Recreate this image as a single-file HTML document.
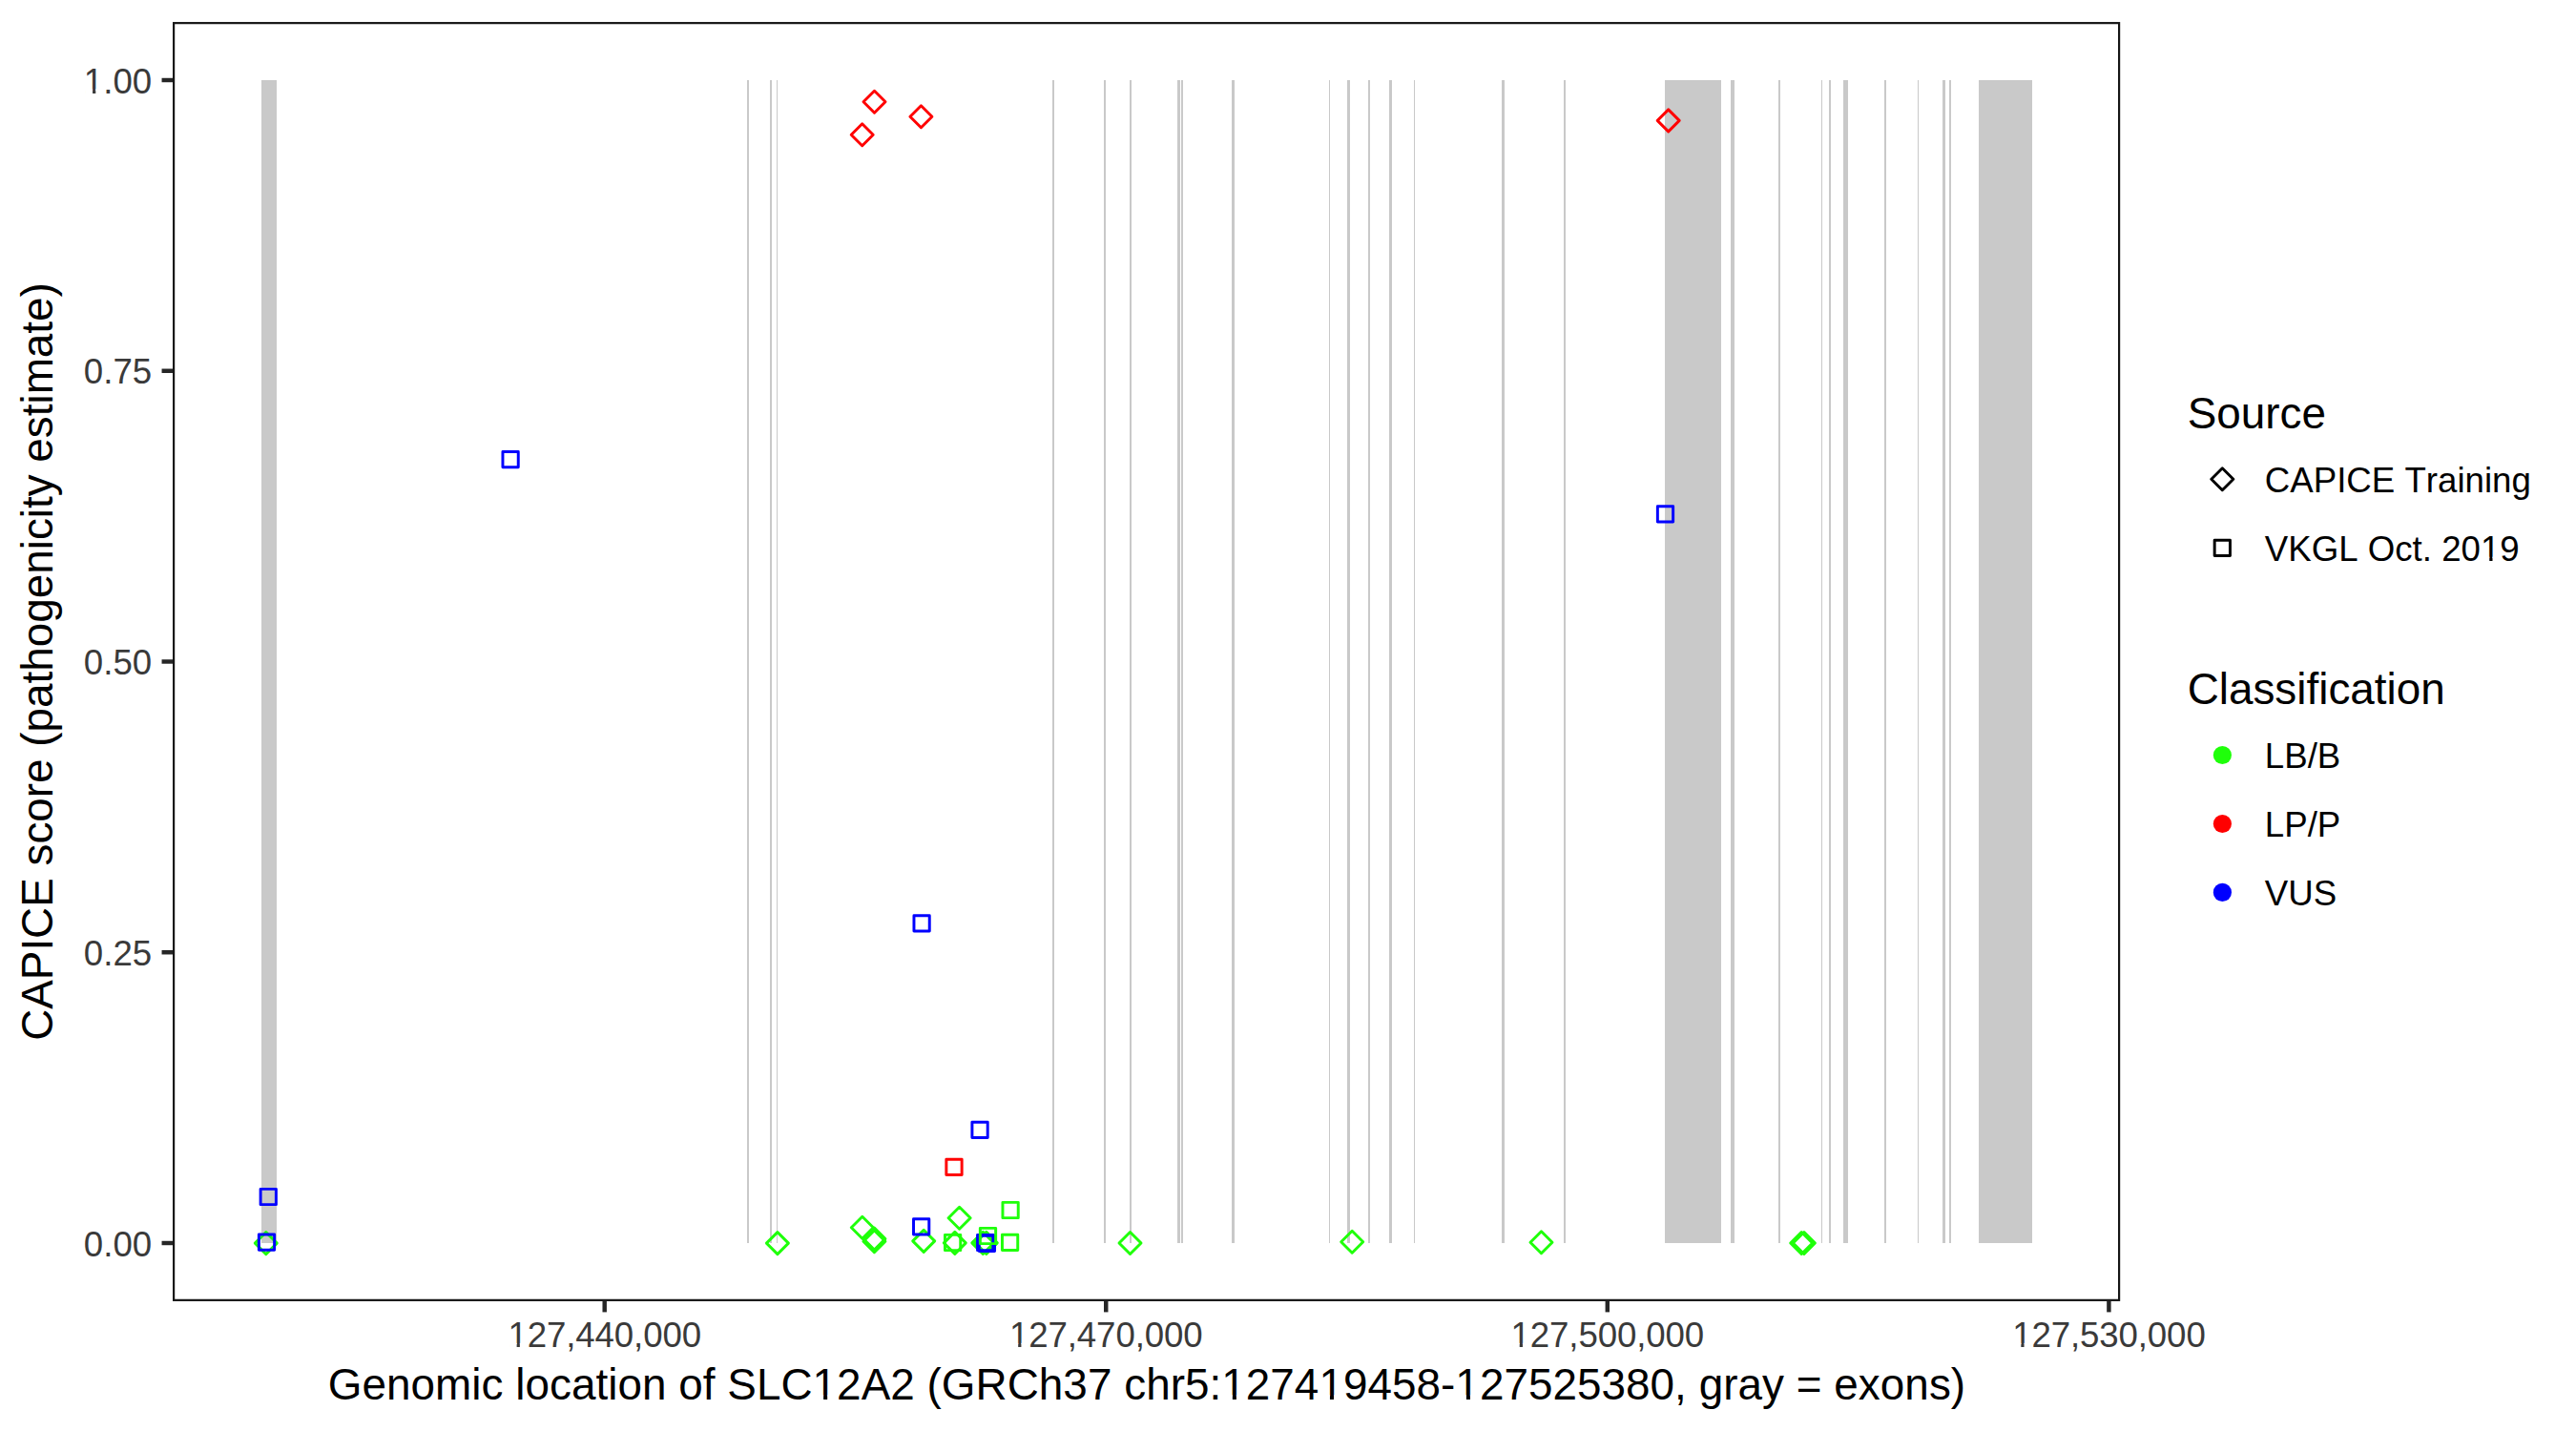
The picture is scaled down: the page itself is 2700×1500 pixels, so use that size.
<!DOCTYPE html>
<html lang="en">
<head>
<meta charset="utf-8">
<title>CAPICE score - SLC12A2</title>
<style>
html,body{margin:0;padding:0;background:#fff;}
body{width:2700px;height:1500px;overflow:hidden;}
svg{display:block;}
text{font-family:"Liberation Sans",sans-serif;font-kerning:none;}
.at{font-size:36.67px;fill:#3a3a3a;}
.ti{font-size:45.83px;fill:#000;}
.lt{font-size:36.67px;fill:#000;}
</style>
</head>
<body>
<svg width="2700" height="1500" viewBox="0 0 2700 1500">
<rect x="0" y="0" width="2700" height="1500" fill="#fff"/>

<g fill="#c9c9c9">
<rect x="274" y="84.0" width="16.0" height="1219.0"/>
<rect x="783" y="84.0" width="2.0" height="1219.0"/>
<rect x="807" y="84.0" width="2.0" height="1219.0"/>
<rect x="814" y="84.0" width="1.0" height="1219.0"/>
<rect x="1103" y="84.0" width="2.0" height="1219.0"/>
<rect x="1157" y="84.0" width="2.0" height="1219.0"/>
<rect x="1184" y="84.0" width="2.0" height="1219.0"/>
<rect x="1234" y="84.0" width="3.0" height="1219.0"/>
<rect x="1238" y="84.0" width="2.0" height="1219.0"/>
<rect x="1291" y="84.0" width="3.0" height="1219.0"/>
<rect x="1393" y="84.0" width="1.0" height="1219.0"/>
<rect x="1412" y="84.0" width="3.0" height="1219.0"/>
<rect x="1434" y="84.0" width="2.0" height="1219.0"/>
<rect x="1456" y="84.0" width="3.0" height="1219.0"/>
<rect x="1482" y="84.0" width="1.0" height="1219.0"/>
<rect x="1574" y="84.0" width="3.0" height="1219.0"/>
<rect x="1639" y="84.0" width="2.0" height="1219.0"/>
<rect x="1745" y="84.0" width="59.0" height="1219.0"/>
<rect x="1814" y="84.0" width="4.0" height="1219.0"/>
<rect x="1864" y="84.0" width="2.0" height="1219.0"/>
<rect x="1909" y="84.0" width="1.0" height="1219.0"/>
<rect x="1917" y="84.0" width="2.0" height="1219.0"/>
<rect x="1932" y="84.0" width="5.0" height="1219.0"/>
<rect x="1975" y="84.0" width="2.0" height="1219.0"/>
<rect x="2010" y="84.0" width="1.0" height="1219.0"/>
<rect x="2036" y="84.0" width="3.0" height="1219.0"/>
<rect x="2043" y="84.0" width="2.0" height="1219.0"/>
<rect x="2074" y="84.0" width="56.0" height="1219.0"/>
</g>
<g fill="none" stroke-width="2.95" stroke-linejoin="round">
<path d="M267.30 1303.10L278.80 1291.60L290.30 1303.10L278.80 1314.60Z" stroke="#1fff0a"/>
<path d="M803.40 1303.10L814.90 1291.60L826.40 1303.10L814.90 1314.60Z" stroke="#1fff0a"/>
<path d="M892.30 1286.80L903.80 1275.30L915.30 1286.80L903.80 1298.30Z" stroke="#1fff0a"/>
<path d="M904.90 1298.60L916.40 1287.10L927.90 1298.60L916.40 1310.10Z" stroke="#1fff0a"/>
<path d="M904.90 1301.20L916.40 1289.70L927.90 1301.20L916.40 1312.70Z" stroke="#1fff0a"/>
<path d="M956.70 1300.90L968.20 1289.40L979.70 1300.90L968.20 1312.40Z" stroke="#1fff0a"/>
<path d="M994.10 1276.70L1005.60 1265.20L1017.10 1276.70L1005.60 1288.20Z" stroke="#1fff0a"/>
<path d="M989.30 1302.90L1000.80 1291.40L1012.30 1302.90L1000.80 1314.40Z" stroke="#1fff0a"/>
<path d="M1018.80 1302.90L1030.30 1291.40L1041.80 1302.90L1030.30 1314.40Z" stroke="#1fff0a"/>
<path d="M1022.30 1302.90L1033.80 1291.40L1045.30 1302.90L1033.80 1314.40Z" stroke="#1fff0a"/>
<path d="M1173.00 1303.00L1184.50 1291.50L1196.00 1303.00L1184.50 1314.50Z" stroke="#1fff0a"/>
<path d="M1405.70 1301.70L1417.20 1290.20L1428.70 1301.70L1417.20 1313.20Z" stroke="#1fff0a"/>
<path d="M1604.00 1302.20L1615.50 1290.70L1627.00 1302.20L1615.50 1313.70Z" stroke="#1fff0a"/>
<path d="M1876.70 1303.00L1888.20 1291.50L1899.70 1303.00L1888.20 1314.50Z" stroke="#1fff0a"/>
<path d="M1879.40 1303.00L1890.90 1291.50L1902.40 1303.00L1890.90 1314.50Z" stroke="#1fff0a"/>
<path d="M905.00 106.80L916.50 95.30L928.00 106.80L916.50 118.30Z" stroke="#ff0000"/>
<path d="M953.90 122.30L965.40 110.80L976.90 122.30L965.40 133.80Z" stroke="#ff0000"/>
<path d="M892.20 141.30L903.70 129.80L915.20 141.30L903.70 152.80Z" stroke="#ff0000"/>
<path d="M1737.20 126.40L1748.70 114.90L1760.20 126.40L1748.70 137.90Z" stroke="#ff0000"/>
<rect x="273.11" y="1246.36" width="16.28" height="16.28" stroke="#0000ff"/>
<rect x="271.36" y="1294.06" width="16.28" height="16.28" stroke="#0000ff"/>
<rect x="526.96" y="473.46" width="16.28" height="16.28" stroke="#0000ff"/>
<rect x="1737.36" y="530.66" width="16.28" height="16.28" stroke="#0000ff"/>
<rect x="957.96" y="959.76" width="16.28" height="16.28" stroke="#0000ff"/>
<rect x="1018.91" y="1176.16" width="16.28" height="16.28" stroke="#0000ff"/>
<rect x="957.51" y="1277.76" width="16.28" height="16.28" stroke="#0000ff"/>
<rect x="1024.56" y="1294.36" width="16.28" height="16.28" stroke="#0000ff"/>
<rect x="1026.26" y="1295.16" width="16.28" height="16.28" stroke="#0000ff"/>
<rect x="991.86" y="1215.26" width="16.28" height="16.28" stroke="#ff0000"/>
<rect x="990.46" y="1294.36" width="16.28" height="16.28" stroke="#1fff0a"/>
<rect x="1027.36" y="1287.36" width="16.28" height="16.28" stroke="#1fff0a"/>
<rect x="1050.96" y="1260.36" width="16.28" height="16.28" stroke="#1fff0a"/>
<rect x="1050.46" y="1294.16" width="16.28" height="16.28" stroke="#1fff0a"/>
</g>
<rect x="182.1" y="24.150000000000002" width="2038.9999999999998" height="1338.7" fill="none" stroke="#151515" stroke-width="2.2"/>
<g stroke="#262626" stroke-width="4.45">
<line x1="169.54" y1="1303.00" x2="181.0" y2="1303.00"/>
<line x1="169.54" y1="998.25" x2="181.0" y2="998.25"/>
<line x1="169.54" y1="693.50" x2="181.0" y2="693.50"/>
<line x1="169.54" y1="388.75" x2="181.0" y2="388.75"/>
<line x1="169.54" y1="84.00" x2="181.0" y2="84.00"/>
<line x1="633.7" y1="1363.95" x2="633.7" y2="1375.41"/>
<line x1="1159.25" y1="1363.95" x2="1159.25" y2="1375.41"/>
<line x1="1684.8" y1="1363.95" x2="1684.8" y2="1375.41"/>
<line x1="2210.4" y1="1363.95" x2="2210.4" y2="1375.41"/>
</g>
<g class="at" text-anchor="end">
<text x="159.2" y="1316.50">0.00</text>
<text x="159.2" y="1011.75">0.25</text>
<text x="159.2" y="707.00">0.50</text>
<text x="159.2" y="402.25">0.75</text>
<text x="159.2" y="97.50">1.00</text>
</g>
<g class="at" text-anchor="middle" letter-spacing="-0.12">
<text x="633.7" y="1412">127,440,000</text>
<text x="1159.25" y="1412">127,470,000</text>
<text x="1684.8" y="1412">127,500,000</text>
<text x="2210.4" y="1412">127,530,000</text>
</g>
<text class="ti" text-anchor="middle" x="1201.95" y="1467.2" letter-spacing="0.042">Genomic location of SLC12A2 (GRCh37 chr5:127419458-127525380, gray = exons)</text>
<text class="ti" text-anchor="middle" transform="translate(54.9 693.5) rotate(-90)">CAPICE score (pathogenicity estimate)</text>
<text class="ti" x="2292.7" y="448.7">Source</text>
<g fill="none" stroke-width="2.95" stroke-linejoin="round" stroke="#000">
<path d="M2317.80 502.30L2329.30 490.80L2340.80 502.30L2329.30 513.80Z" stroke="#000"/>
<rect x="2321.16" y="566.26" width="16.28" height="16.28" stroke="#000"/>
</g>
<text class="lt" x="2373.8" y="515.6">CAPICE Training</text>
<text class="lt" x="2373.8" y="587.8">VKGL Oct. 2019</text>
<text class="ti" x="2292.7" y="738.2">Classification</text>
<circle cx="2329.4" cy="791.5" r="9.6" fill="#1fff0a"/>
<circle cx="2329.4" cy="863.5" r="9.6" fill="#ff0000"/>
<circle cx="2329.4" cy="935.4" r="9.6" fill="#0000ff"/>
<text class="lt" x="2373.8" y="804.8">LB/B</text>
<text class="lt" x="2373.8" y="876.8">LP/P</text>
<text class="lt" x="2373.8" y="948.9">VUS</text>
<g fill="#fff">
<rect x="89.66" y="93.36" width="7.39" height="5.14"/>
<rect x="100.29" y="93.36" width="7.16" height="5.14"/>
<rect x="534.23" y="1407.86" width="7.39" height="5.14"/>
<rect x="544.86" y="1407.86" width="7.16" height="5.14"/>
<rect x="1059.78" y="1407.86" width="7.39" height="5.14"/>
<rect x="1070.41" y="1407.86" width="7.16" height="5.14"/>
<rect x="1585.33" y="1407.86" width="7.39" height="5.14"/>
<rect x="1595.96" y="1407.86" width="7.16" height="5.14"/>
<rect x="2110.93" y="1407.86" width="7.39" height="5.14"/>
<rect x="2121.56" y="1407.86" width="7.16" height="5.14"/>
<rect x="853.89" y="1462.38" width="9.23" height="5.82"/>
<rect x="867.17" y="1462.38" width="8.94" height="5.82"/>
<rect x="1282.60" y="1462.38" width="9.23" height="5.82"/>
<rect x="1295.88" y="1462.38" width="8.94" height="5.82"/>
<rect x="1384.72" y="1462.38" width="9.23" height="5.82"/>
<rect x="1398.00" y="1462.38" width="8.94" height="5.82"/>
<rect x="1527.68" y="1462.38" width="9.23" height="5.82"/>
<rect x="1540.96" y="1462.38" width="8.94" height="5.82"/>
<rect x="2601.87" y="583.66" width="7.39" height="5.14"/>
<rect x="2612.50" y="583.66" width="7.16" height="5.14"/>
</g>
</svg>
</body>
</html>
